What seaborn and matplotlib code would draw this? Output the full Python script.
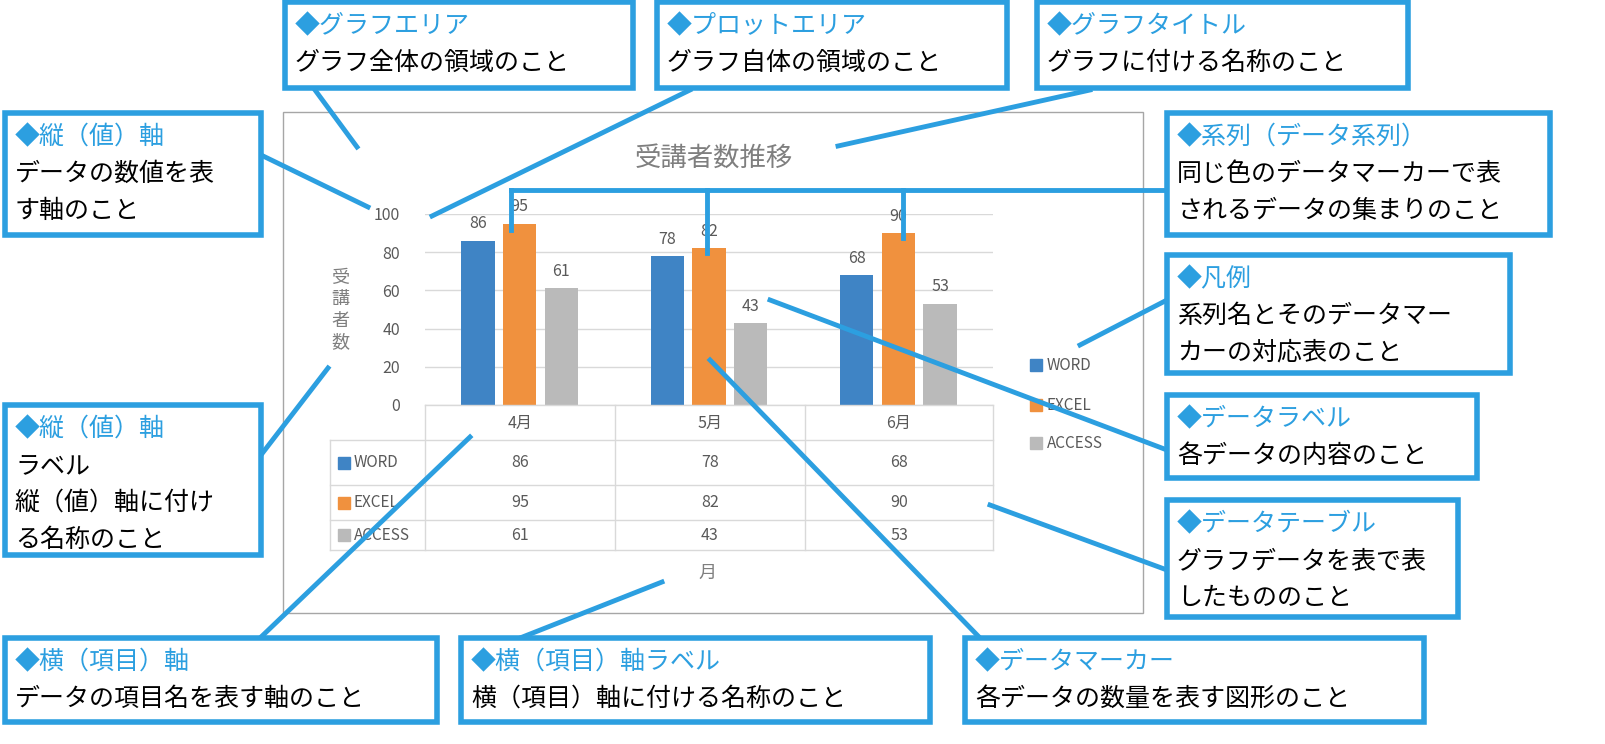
import numpy as np
import pandas as pd
import matplotlib
matplotlib.use("Agg")
import matplotlib.pyplot as plt
import seaborn as sns
from matplotlib.patches import Rectangle

plt.rcParams["font.family"] = "Noto Sans CJK JP"

months = ["4月", "5月", "6月"]
series = ["WORD", "EXCEL", "ACCESS"]
word = [86, 78, 68]
excel = [95, 82, 90]
access = [61, 43, 53]
colors = ["#3f84c5", "#f0913e", "#bababa"]
BLUE = "#2c9fe0"
GREY = "#7f7f7f"

df = pd.DataFrame({"month": months * 3,
                   "series": sum([[s] * 3 for s in series], []),
                   "value": word + excel + access})

W, H = 1606, 744
fig = plt.figure(figsize=(W / 100, H / 100), dpi=100)

def rect(x0, y0, x1, y1):
    return [x0 / W, 1 - y1 / H, (x1 - x0) / W, (y1 - y0) / H]

# plot area
ax = fig.add_axes(rect(425, 214, 993, 405))
sns.barplot(df, x="month", y="value", hue="series", palette=colors, saturation=1,
            width=0.66, gap=0.2, ax=ax, legend=False, zorder=3)
ax.set_xlim(-0.5, 2.5)
ax.set_ylim(0, 100)
ax.set_yticks(range(0, 101, 20))
ax.yaxis.grid(True, color="#d9d9d9", lw=1, zorder=0)
ax.set_axisbelow(True)
for s in ax.spines.values():
    s.set_visible(False)
ax.tick_params(axis="y", length=0, labelcolor="#595959", labelsize=11.5, pad=18)
ax.tick_params(axis="x", length=0, labelbottom=False)
ax.set_xlabel("")
ax.set_ylabel("")
for c in ax.containers:
    ax.bar_label(c, padding=6, color="#595959", fontsize=11.5)

# overlay
ov = fig.add_axes([0, 0, 1, 1], zorder=5)
ov.set_xlim(0, W)
ov.set_ylim(H, 0)
ov.axis("off")
ov.patch.set_alpha(0)

# chart area
ov.add_patch(Rectangle((283, 112), 860, 501, fill=False, ec="#a6a6a6", lw=1))
ov.text(714, 158, "受講者数推移", ha="center", va="center", fontsize=19, color=GREY)
ov.text(340, 310, "受\n講\n者\n数", ha="center", va="center", fontsize=13,
        color=GREY, linespacing=1.25)
ov.text(707, 573, "月", ha="center", va="center", fontsize=13, color=GREY)

# data table
tc = "#d9d9d9"
for x in [425, 615, 805, 993]:
    ov.plot([x, x], [405, 550], color=tc, lw=1)
ov.plot([330, 330], [440, 550], color=tc, lw=1)
ov.plot([425, 993], [405, 405], color=tc, lw=1)
rows_y = [440, 485, 520, 550]
for y in rows_y:
    ov.plot([330, 993], [y, y], color=tc, lw=1)
cx = [520, 710, 899]
for i, m in enumerate(months):
    ov.text(cx[i], 423, m, ha="center", va="center", fontsize=11.5, color="#595959")
for r, (name, vals) in enumerate(zip(series, [word, excel, access])):
    yc = (rows_y[r] + rows_y[r + 1]) / 2
    ov.add_patch(Rectangle((338, yc - 6), 12, 12, color=colors[r]))
    ov.text(354, yc, name, va="center", fontsize=11, color="#595959")
    for i, v in enumerate(vals):
        ov.text(cx[i], yc, str(v), ha="center", va="center", fontsize=11.5, color="#595959")

# legend
for r, (name, yy) in enumerate(zip(series, [365, 405, 443])):
    ov.add_patch(Rectangle((1030, yy - 6), 12, 12, color=colors[r]))
    ov.text(1047, yy, name, va="center", fontsize=11, color="#595959")

# callouts
callouts = [
    ((285, 2, 633, 88), ["◆グラフエリア", "グラフ全体の領域のこと"], [(315, 90), (357, 147)]),
    ((657, 2, 1007, 88), ["◆プロットエリア", "グラフ自体の領域のこと"], [(690, 90), (432, 216)]),
    ((1037, 2, 1408, 88), ["◆グラフタイトル", "グラフに付ける名称のこと"], [(1090, 90), (838, 146)]),
    ((5, 113, 261, 235), ["◆縦（値）軸", "データの数値を表", "す軸のこと"], [(261, 155), (368, 207)]),
    ((1167, 113, 1550, 235), ["◆系列（データ系列）", "同じ色のデータマーカーで表", "されるデータの集まりのこと"], None),
    ((1167, 255, 1510, 373), ["◆凡例", "系列名とそのデータマー", "カーの対応表のこと"], [(1167, 300), (1080, 345)]),
    ((5, 405, 261, 555), ["◆縦（値）軸", "ラベル", "縦（値）軸に付け", "る名称のこと"], [(261, 455), (328, 368)]),
    ((1167, 395, 1477, 478), ["◆データラベル", "各データの内容のこと"], [(1167, 450), (770, 300)]),
    ((1167, 500, 1458, 617), ["◆データテーブル", "グラフデータを表で表", "したもののこと"], [(1167, 570), (990, 505)]),
    ((5, 638, 437, 722), ["◆横（項目）軸", "データの項目名を表す軸のこと"], [(260, 638), (470, 437)]),
    ((461, 638, 930, 722), ["◆横（項目）軸ラベル", "横（項目）軸に付ける名称のこと"], [(520, 638), (662, 582)]),
    ((965, 638, 1424, 722), ["◆データマーカー", "各データの数量を表す図形のこと"], [(980, 638), (710, 360)]),
]
for (x0, y0, x1, y1), lines, seg in callouts:
    if seg:
        (a, b), (c, d) = seg
        ov.plot([a, c], [b, d], color=BLUE, lw=3.5, zorder=4)
    ov.add_patch(Rectangle((x0, y0), x1 - x0, y1 - y0, fc="white", ec=BLUE, lw=4, zorder=5))
    for k, t in enumerate(lines):
        ov.text(x0 + 10, y0 + 24 + 37 * k, t, va="center", fontsize=18,
                color=BLUE if k == 0 else "black", zorder=6)

# series bracket
ov.plot([1167, 511], [190, 190], color=BLUE, lw=3.5, zorder=4)
for x, yb in [(511, 230), (707, 253), (903, 238)]:
    ov.plot([x, x], [190, yb], color=BLUE, lw=3.5, zorder=4)

fig.savefig("out.png", dpi=100)
